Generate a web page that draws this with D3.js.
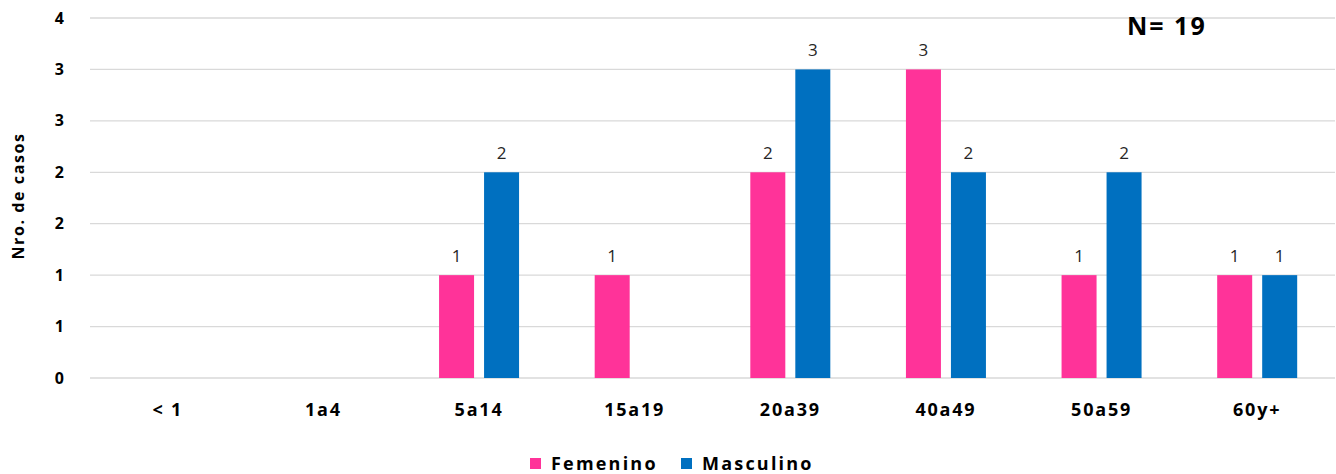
<!DOCTYPE html>
<html>
<head>
<meta charset="utf-8">
<script src="https://cdn.jsdelivr.net/npm/d3@7"></script>
<style>
  body { margin: 0; background: #fff; }
  text { font-family: "Open Sans", "Noto Sans", sans-serif; }
</style>
</head>
<body>
<div id="chart"></div>
<script>
const categories = ["< 1", "1a4", "5a14", "15a19", "20a39", "40a49", "50a59", "60y+"];
const femenino = [0, 0, 1, 1, 2, 3, 1, 1];
const masculino = [0, 0, 2, 0, 3, 2, 2, 1];
const seriesNames = ["Femenino", "Masculino"];
const seriesColors = ["#FF3399", "#0070C0"];
const yTicks = [0, 0.5, 1, 1.5, 2, 2.5, 3, 3.5];
const yTickLabels = ["0", "1", "1", "2", "2", "3", "3", "4"];
const totalLabel = "N= 19";

const W = 1336, H = 474;
const margin = { top: 18, right: 1, bottom: 96, left: 90 };
const width = W - margin.left - margin.right;
const height = H - margin.top - margin.bottom;

const svg = d3.select("#chart").append("svg")
    .attr("width", W).attr("height", H);
const g = svg.append("g").attr("transform", `translate(${margin.left},${margin.top})`);

const x = d3.scaleBand().domain(categories).range([0, width]);
const y = d3.scaleLinear().domain([0, 3.5]).range([height, 0]);

// gridlines
g.selectAll(".grid").data(yTicks).join("line")
    .attr("x1", 0).attr("x2", width)
    .attr("y1", d => y(d)).attr("y2", d => y(d))
    .attr("stroke", "#D9D9D9").attr("stroke-width", 1.3);

// y axis labels
const yAxis = g.append("g").call(d3.axisLeft(y).tickValues(yTicks)
    .tickFormat((d, i) => yTickLabels[i]).tickSize(0).tickPadding(25));
yAxis.select(".domain").remove();
yAxis.selectAll("text")
    .style("font-size", "16px").style("font-weight", "bold").style("letter-spacing", "1px")
    .attr("fill", "#000");

// x axis labels
const xAxis = g.append("g").attr("transform", `translate(0,${height})`)
    .call(d3.axisBottom(x).tickSize(0).tickPadding(25));
xAxis.select(".domain").remove();
xAxis.selectAll("text")
    .style("font-size", "18px").style("font-weight", "bold").style("letter-spacing", "1.8px")
    .attr("fill", "#000");

// bars
const barW = 35, gap = 10;
const rows = categories.map((c, i) => ({ cat: c, vals: [femenino[i], masculino[i]] }));

rows.forEach(r => {
    const cg = g.append("g")
        .attr("transform", `translate(${x(r.cat) + x.bandwidth() / 2 - barW - gap / 2},0)`);
    seriesNames.forEach((s, j) => {
        const v = r.vals[j];
        if (!v) return;
        const bx = j * (barW + gap);
        cg.append("rect")
            .attr("x", bx).attr("width", barW)
            .attr("y", y(v)).attr("height", height - y(v))
            .attr("fill", seriesColors[j]);
        cg.append("text")
            .attr("x", bx + barW / 2).attr("y", y(v) - 13)
            .attr("text-anchor", "middle").style("font-size", "17px").attr("fill", "#262626")
            .text(v);
    });
});

// y title
svg.append("text")
    .attr("transform", `translate(24,196) rotate(-90)`)
    .attr("text-anchor", "middle")
    .style("font-size", "16px").style("font-weight", "bold").style("letter-spacing", "1.6px")
    .text("Nro. de casos");

// N label
svg.append("text").attr("x", 1127).attr("y", 35)
    .style("font-size", "25px").style("font-weight", "bold").style("letter-spacing", "2px")
    .text(totalLabel);

// legend
const legend = svg.append("g").attr("transform", "translate(530,458)");
const legX = [0, 151];
seriesNames.forEach((s, j) => {
    legend.append("rect").attr("x", legX[j]).attr("y", 0).attr("width", 11).attr("height", 11)
        .attr("fill", seriesColors[j]);
    legend.append("text").attr("x", legX[j] + 21).attr("y", 12)
        .style("font-size", "18px").style("font-weight", "bold").style("letter-spacing", "2.2px")
        .text(s);
});
</script>
</body>
</html>
